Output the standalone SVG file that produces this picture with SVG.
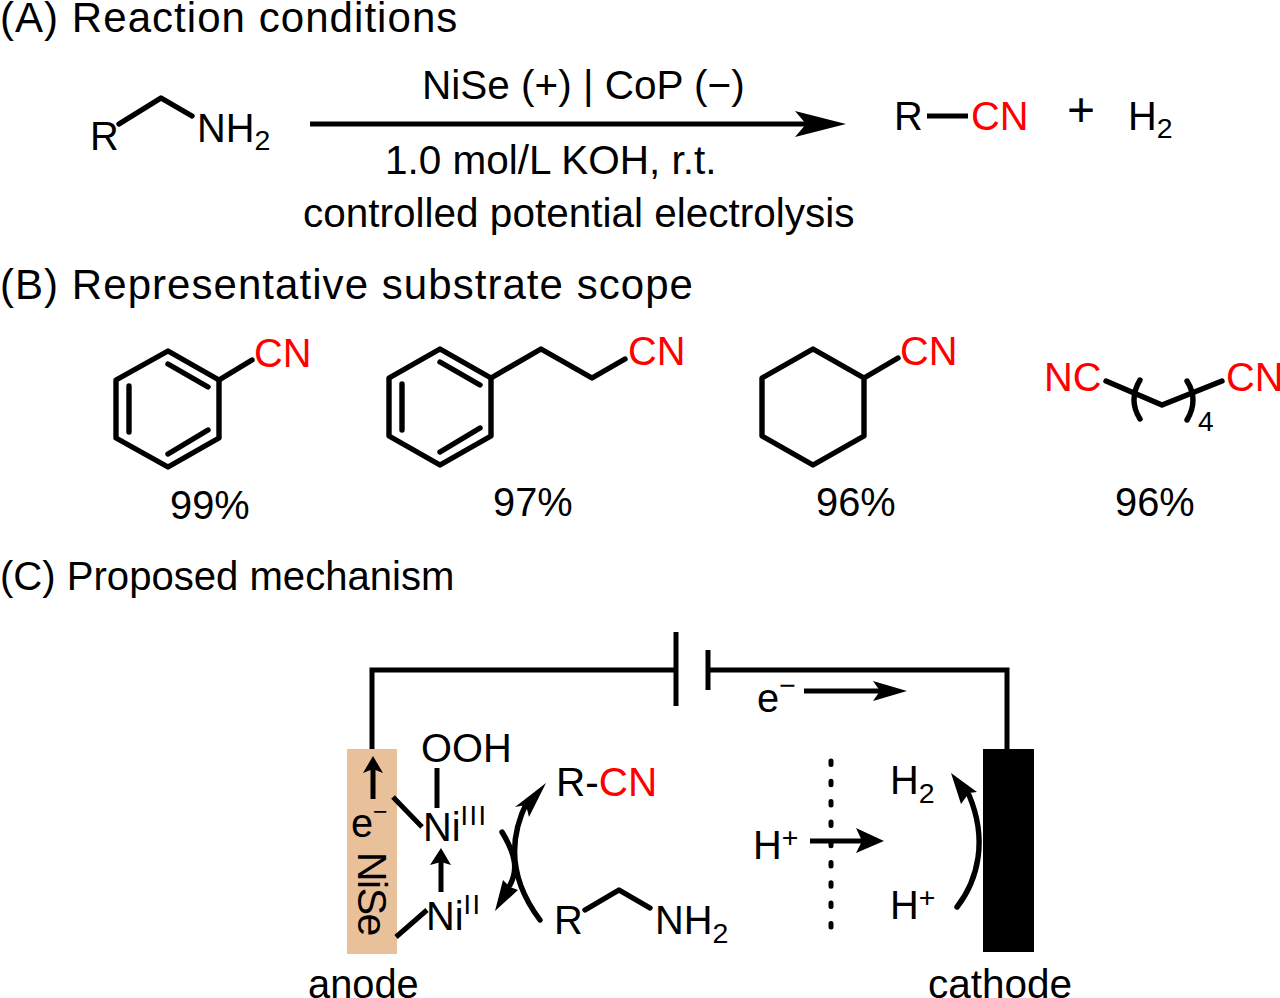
<svg xmlns="http://www.w3.org/2000/svg" width="1280" height="998" viewBox="0 0 1280 998">
<style>
text{font-family:"Liberation Sans",Arial,sans-serif;fill:#000;font-size:39.8px}
.r{fill:#f00}
.t{font-size:42px;letter-spacing:1.05px}
.a{font-size:40.5px}
.s{font-size:28.5px}
.n{font-size:27px;letter-spacing:1.5px}
.b{fill:none;stroke:#000;stroke-width:5.4;stroke-linecap:round;stroke-linejoin:round}
.w{fill:none;stroke:#000;stroke-width:5;stroke-linecap:butt;stroke-linejoin:miter}
.h{fill:#000;stroke:none}
</style>
<rect width="1280" height="998" fill="#fff"/>
<g id="titles">
<text x="0" y="32" class="t">(A) Reaction conditions</text>
<text x="0" y="299" class="t">(B) Representative substrate scope</text>
<text x="0" y="590" style="font-size:40.1px">(C) Proposed mechanism</text>
</g>
<g id="reaction-a">
<text x="90" y="150">R</text>
<polyline class="b" points="119,124 161,98 192,116"/>
<text x="197" y="142">NH<tspan class="s" dy="8">2</tspan></text>
<text x="422" y="99" class="a">NiSe (+) | CoP (−)</text>
<text x="385" y="174" class="a">1.0 mol/L KOH, r.t.</text>
<text x="303" y="227" class="a">controlled potential electrolysis</text>
<text x="894" y="130">R</text>
<line class="w" x1="927" y1="116" x2="968" y2="116"/>
<text x="971" y="130" class="r">CN</text>
<text x="1067" y="126" style="font-size:48px">+</text>
<text x="1128" y="130">H<tspan class="s" dy="8">2</tspan></text>
</g>
<g id="connectors">
<line class="w" x1="310" y1="124" x2="810" y2="124"/>
<polygon class="h" points="846,124 795,111 806,124 795,137"/>
<polyline class="w" points="372,749 372,670 676,670"/>
<polyline class="w" points="708,670 1007,670 1007,749"/>
<line class="w" x1="676" y1="632" x2="676" y2="706"/>
<line class="w" x1="708" y1="650" x2="708" y2="690"/>
<line class="w" x1="804" y1="691" x2="880" y2="691"/>
<polygon class="h" points="907,691 873,681 880,691 873,701"/>
<line x1="831" y1="761" x2="831" y2="927" stroke="#000" stroke-width="5" stroke-dasharray="3.5 16.8" stroke-linecap="round"/>
<line class="w" x1="810" y1="841" x2="862" y2="841"/>
<polygon class="h" points="884,841 856,828 862,841 856,853"/>
<path class="b" d="M957,907 C978,880 988,840 969,795"/>
<polygon class="h" points="951,773 961,804 969,793 977,792"/>
</g>
<g id="anode">
<rect x="347" y="749" width="50" height="205" fill="#e8c09a"/>
<line class="w" x1="373" y1="799" x2="373" y2="768"/>
<polygon class="h" points="373,756 363,773 373,769 383,773"/>
<line class="w" x1="393" y1="797" x2="422" y2="827"/>
<line class="w" x1="396" y1="937" x2="427" y2="910"/>
<text x="351" y="837">e</text>
<text x="373" y="820" style="font-size:25px">−</text>
<text transform="translate(358,852) rotate(90)" style="font-size:41px;letter-spacing:-1.5px">NiSe</text>
<text x="308" y="998">anode</text>
</g>
<g id="nickel">
<text x="421" y="762">OOH</text>
<line class="w" x1="437" y1="768" x2="437" y2="808"/>
<text x="423" y="841">Ni<tspan class="n" dy="-16">III</tspan></text>
<line class="w" x1="441" y1="892" x2="441" y2="862"/>
<polygon class="h" points="441,848 430,865 441,862 451,865"/>
<text x="426" y="930">Ni<tspan class="n" dy="-16">II</tspan></text>
</g>
<g id="cycle">
<path class="b" d="M540,920 C510,880 508,840 527,802"/>
<polygon class="h" points="546,783 515,807 526,805 529,817"/>
<path class="b" d="M502,832 C516,855 518,870 510,885"/>
<polygon class="h" points="495,911 503,880 510,887 518,890"/>
<text x="556" y="796" class="a">R-<tspan class="r">CN</tspan></text>
<text x="554" y="934">R</text>
<polyline class="b" points="585,910 619,890 650,908"/>
<text x="655" y="934">NH<tspan class="s" dy="9">2</tspan></text>
</g>
<g id="cathode">
<rect x="983" y="749" width="51" height="203" fill="#000"/>
<text x="757" y="712">e<tspan class="s" dy="-17">−</tspan></text>
<text x="753" y="859">H<tspan class="s" dy="-12">+</tspan></text>
<text x="890" y="794">H<tspan class="s" dy="9">2</tspan></text>
<text x="890" y="919">H<tspan class="s" dy="-12">+</tspan></text>
<text x="928" y="998" class="a">cathode</text>
</g>
<g id="benzonitrile">
<polygon class="b" points="168,351 219,380 219,438 168,467 116,438 116,380"/>
<path class="b" d="M168,364 L208,387 M208,430 L168,454 M129,432 L129,386"/>
<line class="b" x1="219" y1="380" x2="252" y2="360"/>
<text x="254" y="367" class="r">CN</text>
<text x="170" y="519">99%</text>
</g>
<g id="phenylpropanenitrile">
<polygon class="b" points="440,349 491,378 491,436 440,465 389,436 389,378"/>
<path class="b" d="M440,362 L480,385 M480,428 L440,452 M402,430 L402,384"/>
<polyline class="b" points="491,378 541,349 592,378 625,359"/>
<text x="628" y="365" class="r">CN</text>
<text x="493" y="516">97%</text>
</g>
<g id="cyclohexanecarbonitrile">
<polygon class="b" points="813,349 864,378 864,436 813,465 762,436 762,378"/>
<line class="b" x1="864" y1="378" x2="898" y2="358"/>
<text x="900" y="365" class="r">CN</text>
<text x="816" y="516">96%</text>
</g>
<g id="adiponitrile">
<text x="1044" y="391" class="r">NC</text>
<polyline class="b" points="1106,381 1162,405 1222,381"/>
<path class="b" d="M1140,380 Q1128,400 1140,419 M1187,381 Q1199,400 1187,420"/>
<text x="1198" y="431" style="font-size:28px">4</text>
<text x="1226" y="391" class="r">CN</text>
<text x="1115" y="516">96%</text>
</g>
</svg>
